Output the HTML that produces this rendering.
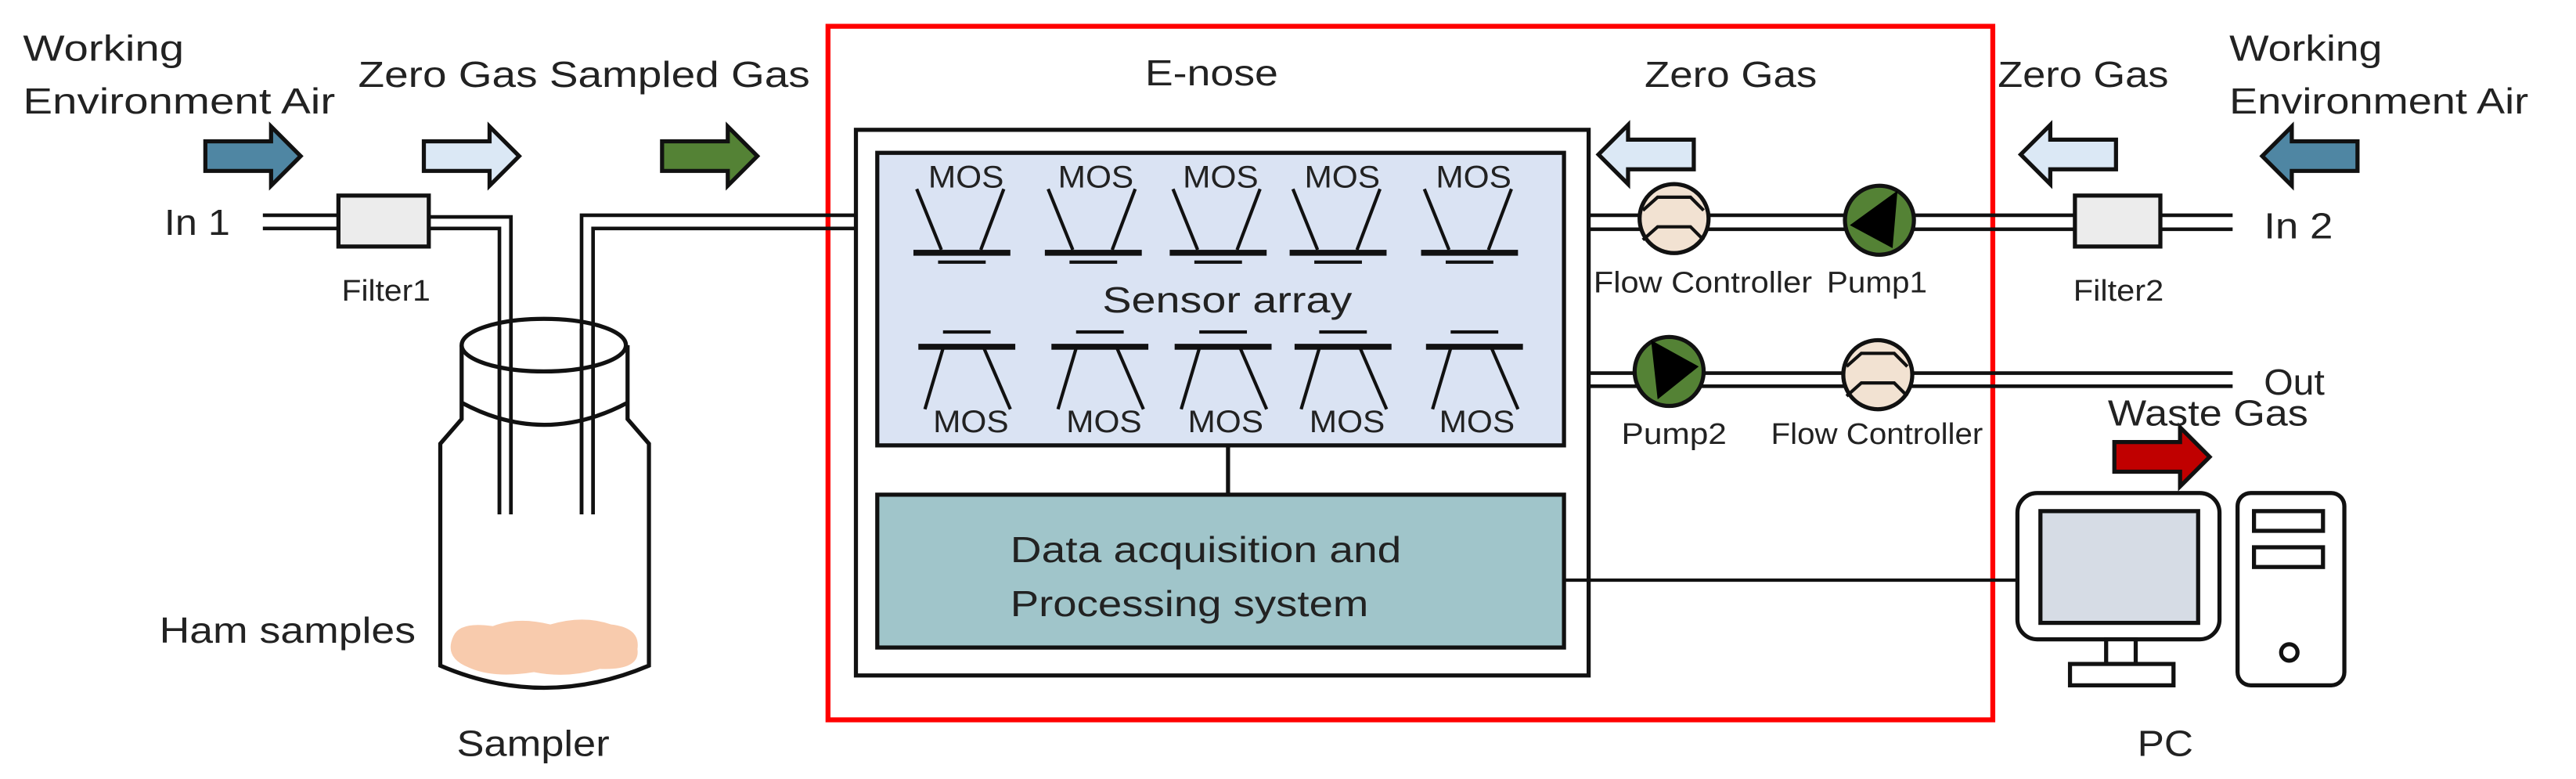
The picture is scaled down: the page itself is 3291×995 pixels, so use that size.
<!DOCTYPE html>
<html><head><meta charset="utf-8"><style>
html,body{margin:0;padding:0;background:#fff;}
svg{display:block;}
text{font-family:"Liberation Sans",sans-serif;fill:#222;}
</style></head><body>
<svg width="3291" height="995" viewBox="0 0 1568 474" preserveAspectRatio="none" xmlns="http://www.w3.org/2000/svg">
<defs>
<g id="sTop">
<line x1="-28" y1="-37" x2="-13" y2="0" stroke="#111" stroke-width="2"/>
<line x1="25" y1="-37" x2="11" y2="0" stroke="#111" stroke-width="2"/>
<rect x="-30" y="0" width="59" height="3.6" fill="#111"/>
<rect x="-15" y="6.5" width="29" height="2" fill="#111"/>
</g>
<g id="sBot">
<rect x="-15" y="-10" width="29" height="2" fill="#111"/>
<rect x="-30" y="-1.8" width="59" height="3.6" fill="#111"/>
<line x1="-15" y1="1" x2="-26" y2="38" stroke="#111" stroke-width="2"/>
<line x1="10" y1="1" x2="26" y2="38" stroke="#111" stroke-width="2"/>
</g>
<g id="fc">
<circle r="21" fill="#f2e2d2" stroke="#111" stroke-width="2.5"/>
<polyline points="-19,-5 -10,-13 10,-13 18,-5" fill="none" stroke="#111" stroke-width="2"/>
<polyline points="-19,13 -10,5 10,5 18,13" fill="none" stroke="#111" stroke-width="2"/>
</g>
<path id="arR" d="M0,-9 L40,-9 L40,-18 L58,0 L40,18 L40,9 L0,9 Z" stroke="#111" stroke-width="2.5"/>
</defs>

<!-- Red box -->
<rect x="504" y="16" width="709" height="422" fill="none" stroke="#ff0000" stroke-width="3"/>

<use href="#arR" x="125" y="95" fill="#4f86a3"/>
<use href="#arR" x="258" y="95" fill="#dbe8f5"/>
<use href="#arR" x="403" y="95" fill="#548235"/>

<!-- left pipes -->
<g stroke="#111" stroke-width="2.2" fill="none">
<line x1="160" y1="131" x2="206" y2="131"/><line x1="160" y1="139" x2="206" y2="139"/>
<polyline points="261,132 311,132 311,313"/>
<polyline points="261,139 304,139 304,313"/>
<polyline points="354,313 354,131 521,131"/>
<polyline points="361,313 361,139 521,139"/>
</g>
<rect x="206" y="119" width="55" height="31" fill="#ececec" stroke="#111" stroke-width="2.5"/>
<text x="208" y="183" font-size="18" textLength="54" lengthAdjust="spacingAndGlyphs">Filter1</text>

<!-- Jar -->
<path d="M281,210 L281,255 L268,270 L268,405 Q331,432 395,405 L395,270 L382,255 L382,210" fill="none" stroke="#111" stroke-width="2.5"/>
<ellipse cx="331" cy="210" rx="50" ry="16" fill="none" stroke="#111" stroke-width="2.5"/>
<path d="M281,245 Q331,272 382,245" fill="none" stroke="#111" stroke-width="2.5"/>
<path d="M276,387 Q280,378 300,381 Q315,375 335,380 Q355,374 372,380 Q390,382 388,395 Q390,408 365,407 Q345,413 325,409 Q300,413 285,406 Q270,400 276,387 Z" fill="#f8cbad"/>
<g stroke="#111" stroke-width="2.2"><line x1="304" y1="200" x2="304" y2="313"/><line x1="311" y1="200" x2="311" y2="313"/><line x1="354" y1="200" x2="354" y2="313"/><line x1="361" y1="200" x2="361" y2="313"/></g>

<!-- E-nose -->
<rect x="521" y="79" width="446" height="332" fill="#fff" stroke="#111" stroke-width="2.5"/>
<rect x="534" y="93" width="418" height="178" fill="#dae3f3" stroke="#111" stroke-width="2.5"/>
<g font-size="19">
<text x="588" y="114" text-anchor="middle" textLength="46" lengthAdjust="spacingAndGlyphs">MOS</text><text x="667" y="114" text-anchor="middle" textLength="46" lengthAdjust="spacingAndGlyphs">MOS</text><text x="743" y="114" text-anchor="middle" textLength="46" lengthAdjust="spacingAndGlyphs">MOS</text><text x="817" y="114" text-anchor="middle" textLength="46" lengthAdjust="spacingAndGlyphs">MOS</text><text x="897" y="114" text-anchor="middle" textLength="46" lengthAdjust="spacingAndGlyphs">MOS</text>
<text x="591" y="263" text-anchor="middle" textLength="46" lengthAdjust="spacingAndGlyphs">MOS</text><text x="672" y="263" text-anchor="middle" textLength="46" lengthAdjust="spacingAndGlyphs">MOS</text><text x="746" y="263" text-anchor="middle" textLength="46" lengthAdjust="spacingAndGlyphs">MOS</text><text x="820" y="263" text-anchor="middle" textLength="46" lengthAdjust="spacingAndGlyphs">MOS</text><text x="899" y="263" text-anchor="middle" textLength="46" lengthAdjust="spacingAndGlyphs">MOS</text>
</g>
<use href="#sTop" x="586" y="152"/><use href="#sTop" x="666" y="152"/><use href="#sTop" x="742" y="152"/><use href="#sTop" x="815" y="152"/><use href="#sTop" x="895" y="152"/>
<use href="#sBot" x="589" y="211"/><use href="#sBot" x="670" y="211"/><use href="#sBot" x="745" y="211"/><use href="#sBot" x="818" y="211"/><use href="#sBot" x="898" y="211"/>
<line x1="747.5" y1="271" x2="747.5" y2="301" stroke="#111" stroke-width="2.5"/>
<rect x="534" y="301" width="418" height="93" fill="#a0c5ca" stroke="#111" stroke-width="2.5"/>
<line x1="952" y1="353" x2="1228" y2="353" stroke="#111" stroke-width="2"/>

<!-- right pipes -->
<g stroke="#111" stroke-width="2.2">
<line x1="967" y1="131" x2="1263" y2="131"/><line x1="967" y1="139.5" x2="1263" y2="139.5"/>
<line x1="1315" y1="131" x2="1359" y2="131"/><line x1="1315" y1="139.5" x2="1359" y2="139.5"/>
<line x1="967" y1="227" x2="1359" y2="227"/><line x1="967" y1="235" x2="1359" y2="235"/>
</g>
<rect x="1263" y="119" width="52" height="31" fill="#ececec" stroke="#111" stroke-width="2.5"/>
<text x="1262" y="183" font-size="18" textLength="55" lengthAdjust="spacingAndGlyphs">Filter2</text>
<use href="#fc" x="1019" y="133"/>
<use href="#fc" x="1143" y="228"/>
<circle cx="1144" cy="134" r="21" fill="#548235" stroke="#111" stroke-width="2.5"/>
<polygon points="1126,137 1155,116 1152,151" fill="#000"/>
<circle cx="1016" cy="226" r="21" fill="#548235" stroke="#111" stroke-width="2.5"/>
<polygon points="1034,223 1005,207 1009,243" fill="#000"/>
<g font-size="18">
<text x="970" y="178" textLength="133" lengthAdjust="spacingAndGlyphs">Flow Controller</text>
<text x="1112" y="178" textLength="61" lengthAdjust="spacingAndGlyphs">Pump1</text>
<text x="987" y="270" textLength="64" lengthAdjust="spacingAndGlyphs">Pump2</text>
<text x="1078" y="270" textLength="129" lengthAdjust="spacingAndGlyphs">Flow Controller</text>
</g>
<use href="#arR" x="1073" y="94" fill="#dbe8f5" transform="translate(2104,0) scale(-1,1)"/>
<use href="#arR" x="1230" y="94" fill="#dbe8f5" transform="translate(2518,0) scale(-1,1)"/>
<use href="#arR" x="1378" y="95" fill="#4f86a3" transform="translate(2813,0) scale(-1,1)"/>
<use href="#arR" x="1287" y="278" fill="#c00000"/>

<!-- PC -->
<rect x="1228" y="300" width="123" height="89" rx="12" fill="#fff" stroke="#111" stroke-width="2.5"/>
<rect x="1242" y="311" width="96" height="68" fill="#d6dce5" stroke="#111" stroke-width="2.5"/>
<rect x="1282" y="389" width="18" height="15" fill="#fff" stroke="#111" stroke-width="2.5"/>
<rect x="1260" y="404" width="63" height="13" fill="#fff" stroke="#111" stroke-width="2.5"/>
<rect x="1362" y="300" width="65" height="117" rx="8" fill="#fff" stroke="#111" stroke-width="2.5"/>
<rect x="1372" y="311" width="42" height="12" fill="#fff" stroke="#111" stroke-width="2.5"/>
<rect x="1372" y="333" width="42" height="12" fill="#fff" stroke="#111" stroke-width="2.5"/>
<circle cx="1393.5" cy="397" r="5" fill="#fff" stroke="#111" stroke-width="2.5"/>

<g font-size="22">
<text x="14" y="37" textLength="98" lengthAdjust="spacingAndGlyphs">Working</text>
<text x="14" y="69" textLength="190" lengthAdjust="spacingAndGlyphs">Environment  Air</text>
<text x="218" y="53" textLength="275" lengthAdjust="spacingAndGlyphs">Zero Gas Sampled Gas</text>
<text x="100" y="143" textLength="40" lengthAdjust="spacingAndGlyphs">In 1</text>
<text x="97" y="391" textLength="156" lengthAdjust="spacingAndGlyphs">Ham samples</text>
<text x="278" y="460" textLength="93" lengthAdjust="spacingAndGlyphs">Sampler</text>
<text x="697" y="52" textLength="81" lengthAdjust="spacingAndGlyphs">E-nose</text>
<text x="671" y="190" textLength="152" lengthAdjust="spacingAndGlyphs">Sensor array</text>
<text x="615" y="342" textLength="238" lengthAdjust="spacingAndGlyphs">Data acquisition and</text>
<text x="615" y="375" textLength="218" lengthAdjust="spacingAndGlyphs">Processing system</text>
<text x="1001" y="53" textLength="105" lengthAdjust="spacingAndGlyphs">Zero Gas</text>
<text x="1216" y="53" textLength="104" lengthAdjust="spacingAndGlyphs">Zero Gas</text>
<text x="1357" y="37" textLength="93" lengthAdjust="spacingAndGlyphs">Working</text>
<text x="1357" y="69" textLength="182" lengthAdjust="spacingAndGlyphs">Environment  Air</text>
<text x="1378" y="145" textLength="42" lengthAdjust="spacingAndGlyphs">In 2</text>
<text x="1378" y="240" textLength="37" lengthAdjust="spacingAndGlyphs">Out</text>
<text x="1283" y="259" textLength="122" lengthAdjust="spacingAndGlyphs">Waste Gas</text>
<text x="1301" y="460" textLength="34" lengthAdjust="spacingAndGlyphs">PC</text>
</g>
</svg>
</body></html>
